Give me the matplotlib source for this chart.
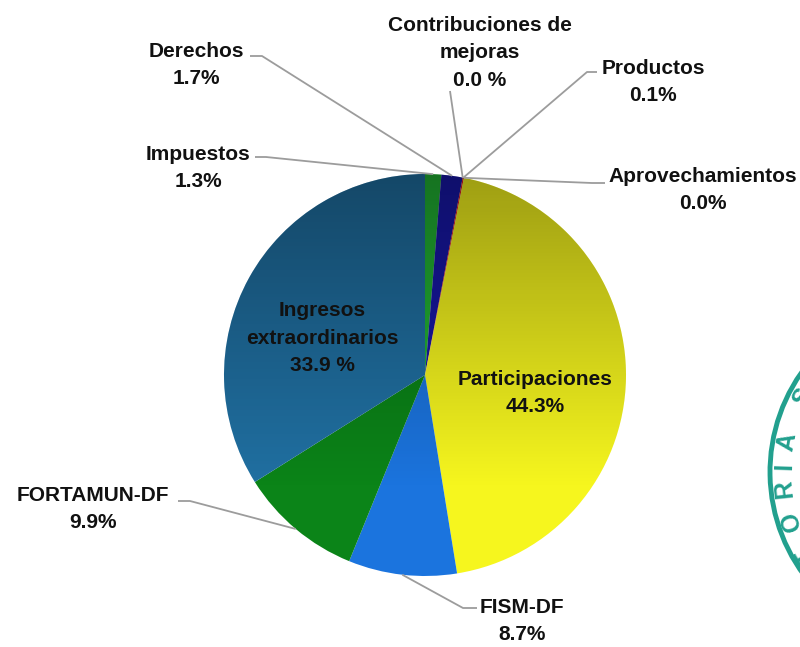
import numpy as np
import matplotlib
matplotlib.use("Agg")
import matplotlib.pyplot as plt
from matplotlib.patches import Circle, Arc

plt.rcParams['font.family'] = ['Liberation Sans', 'DejaVu Sans']

# DATA
categories = ["Impuestos", "Derechos", "Contribuciones de\nmejoras", "Productos",
              "Aprovechamientos", "Participaciones", "FISM-DF", "FORTAMUN-DF",
              "Ingresos\nextraordinarios"]
shares = [1.3, 1.7, 0.0, 0.1, 0.0, 44.3, 8.7, 9.9, 33.9]
pct_labels = ["1.3%", "1.7%", "0.0 %", "0.1%", "0.0%", "44.3%", "8.7%", "9.9%", "33.9 %"]
colors = ["#22b434", "#1818a8", "#8a8a8a", "#e02020", "#8a8a8a",
          "#f6f61e", "#1b74de", "#0b8418", "#2070a2"]

H = 647  # image height, labels laid out in pixel space (y from top)


def Y(y):
    return H - y


fig = plt.figure(figsize=(8, 6.47), dpi=100)
ax = fig.add_axes([0, 0, 1, 1])

cx, cy, R = 425, Y(375), 201
wedges, _ = ax.pie(shares, colors=colors, startangle=90, counterclock=False,
                   center=(cx, cy), radius=R, wedgeprops=dict(linewidth=0))

# darker shading towards the top of the pie (row 0 = top)
grad = np.zeros((256, 1, 4))
grad[:, 0, 3] = np.clip(np.linspace(0.36, -0.1, 256), 0, None)
shade = ax.imshow(grad, extent=(cx - R, cx + R, cy - R, cy + R), aspect='auto',
                  origin='upper', zorder=3, interpolation='bilinear')
shade.set_clip_path(Circle((cx, cy), R, transform=ax.transData))

# label placement: (text centre x, y), leader start points
layout = {
    0: ((198, 168), [(255, 157), (266, 157)]),
    1: ((196, 65), [(250, 56), (262, 56)]),
    2: ((480, 53), [(450, 91)]),
    3: ((653, 82), [(597, 72), (587, 72)]),
    4: ((703, 190), [(605, 183), (592, 183)]),
    5: ((535, 393), None),
    6: ((522, 621), [(477, 608), (463, 608)]),
    7: ((93, 509), [(178, 501), (190, 501)]),
    8: ((322, 338), None),
}

for i, w in enumerate(wedges):
    (tx, ty), lead = layout[i]
    ax.text(tx, Y(ty), categories[i] + "\n" + pct_labels[i], ha='center', va='center',
            fontsize=15, fontweight='bold', color='#111111', linespacing=1.55, zorder=5)
    if lead:
        mid = np.deg2rad((w.theta1 + w.theta2) / 2)
        ex, ey = cx + R * np.cos(mid), cy + R * np.sin(mid)
        xs = [p[0] for p in lead] + [ex]
        ys = [Y(p[1]) for p in lead] + [ey]
        ax.plot(xs, ys, color='#9c9c9c', lw=1.3, zorder=4, solid_capstyle='butt')

# partial stamp at the right edge (cut by the page edge, as in the scan)
sx, sy, sr = 943, Y(472), 173
ax.add_patch(Arc((sx, sy), 2 * sr, 2 * sr, theta1=140, theta2=222,
                 color='#22a08e', lw=3.5, zorder=2))
for ch, ang in zip("TORIASU", [211, 198, 186, 178, 169, 152, 139]):
    a = np.deg2rad(ang)
    ax.text(sx + 159 * np.cos(a), sy + 159 * np.sin(a), ch, color='#22a08e',
            fontsize=18, fontweight='bold', rotation=ang - 90,
            ha='center', va='center', rotation_mode='anchor', zorder=2)

ax.set_xlim(0, 800)
ax.set_ylim(0, H)
ax.set_aspect('equal')
ax.axis('off')

fig.savefig("out.png", dpi=100, facecolor='white')
